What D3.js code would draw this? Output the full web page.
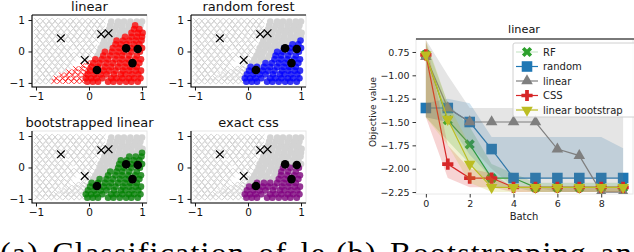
<!DOCTYPE html>
<html>
<head>
<meta charset="utf-8">
<script src="https://cdn.jsdelivr.net/npm/d3@7"></script>
<style>
body { margin: 0; background: #fff; }
svg { display: block; font-family: "DejaVu Sans", sans-serif; }
</style>
</head>
<body>
<svg id="chart" width="634" height="252"></svg>
<script>
// ---- left: four classification panels ----
const panelTitles = ["linear", "random forest", "bootstrapped linear", "exact css"];
const panelColors = ["red", "blue", "green", "purple"];
// a circle is coloured in a panel when its level is >= the panel's value
const panelMinLevel = [1, 3, 2, 4];
const scatterTicks = [-1, 0, 1];

// gray "x" class points, rows of [y, [x...]]
const crossRows = [
    [0.97, [-0.98, -0.87, -0.75, -0.64, -0.52, -0.41, -0.3, -0.18, -0.07, 0.04, 0.15, 0.26]],
    [0.85, [-0.93, -0.81, -0.7, -0.58, -0.47, -0.35, -0.24, -0.13, -0.01, 0.1, 0.21]],
    [0.73, [-0.99, -0.87, -0.76, -0.64, -0.53, -0.41, -0.29, -0.19, -0.06, 0.05, 0.16, 0.25]],
    [0.61, [-0.94, -0.82, -0.7, -0.59, -0.47, -0.36, -0.24, -0.12, -0.01, 0.11, 0.2]],
    [0.49, [-0.98, -0.86, -0.75, -0.63, -0.5, -0.4, -0.28, -0.17, -0.05, 0.06, 0.16]],
    [0.37, [-0.93, -0.8, -0.69, -0.57, -0.45, -0.34, -0.22, -0.1, 0.01, 0.13]],
    [0.25, [-0.99, -0.87, -0.76, -0.64, -0.52, -0.29, -0.18, -0.06, 0.05]],
    [0.13, [-0.94, -0.82, -0.7, -0.59, -0.47, -0.36, -0.24, -0.12, 0.0, 0.1]],
    [0.01, [-0.98, -0.86, -0.75, -0.63, -0.52, -0.4, -0.18, -0.07, 0.04]],
    [-0.11, [-0.93, -0.8, -0.69, -0.57, -0.46, -0.34, -0.23, -0.12, 0.0]],
    [-0.23, [-0.99, -0.87, -0.75, -0.64, -0.53, -0.41, -0.3, -0.04]],
    [-0.35, [-0.94, -0.82, -0.7, -0.59, -0.48, -0.36]],
    [-0.47, [-0.98, -0.87, -0.75, -0.63, -0.52, -0.4]],
    [-0.59, [-0.93, -0.81, -0.69, -0.58, -0.46]],
    [-0.71, [-0.99, -0.87, -0.76, -0.64]],
    [-0.83, [-0.94, -0.82, -0.71]],
    [-0.95, [-0.98, -0.87, -0.76]]
];

// "x" points that the linear learner marks (red in the first panel only)
const linearCrossRows = [
    [-0.35, [-0.02]],
    [-0.45, [-0.12, 0.0]],
    [-0.55, [-0.25, -0.14, -0.04]],
    [-0.65, [-0.38, -0.27, -0.16, -0.06]],
    [-0.75, [-0.52, -0.42, -0.31, -0.2, -0.09]],
    [-0.85, [-0.62, -0.5, -0.4, -0.29, -0.18]],
    [-0.95, [-0.66, -0.55, -0.44, -0.33, -0.23, -0.13]]
];

// "o" class points, rows of [y, [[x, level]...]]
const circleRows = [
    [-0.96, [[-0.03, 4], [0.07, 4], [0.17, 4], [0.36, 4], [0.46, 4], [0.58, 4], [0.7, 4], [0.8, 4], [0.92, 4]]],
    [-0.85, [[-0.06, 4], [0.04, 4], [0.14, 4], [0.25, 4], [0.42, 4], [0.52, 4], [0.63, 4], [0.75, 4], [0.85, 4], [0.97, 4]]],
    [-0.73, [[-0.02, 4], [0.1, 4], [0.22, 4], [0.33, 4], [0.47, 4], [0.6, 4], [0.69, 4], [0.81, 4], [0.93, 4]]],
    [-0.61, [[0.02, 4], [0.12, 4], [0.27, 4], [0.38, 4], [0.5, 4], [0.64, 4], [0.76, 4], [0.88, 4], [0.98, 4]]],
    [-0.49, [[0.05, 3], [0.17, 4], [0.3, 4], [0.42, 4], [0.55, 4], [0.67, 4], [0.78, 4], [0.9, 4]]],
    [-0.37, [[0.08, 1], [0.2, 2], [0.33, 3], [0.45, 3], [0.58, 4], [0.7, 4], [0.84, 4], [0.95, 4]]],
    [-0.25, [[0.12, 1], [0.24, 1], [0.36, 2], [0.5, 3], [0.62, 4], [0.74, 4], [0.87, 4], [0.98, 4]]],
    [-0.13, [[0.16, 0], [0.27, 1], [0.4, 2], [0.52, 3], [0.63, 4], [0.76, 4], [0.9, 4]]],
    [-0.01, [[0.2, 0], [0.3, 1], [0.43, 1], [0.55, 3], [0.66, 4], [0.8, 4], [0.96, 4]]],
    [0.11, [[0.22, 0], [0.34, 0], [0.45, 1], [0.57, 2], [0.68, 3], [0.79, 3], [0.9, 3], [1.0, 3]]],
    [0.23, [[0.26, 0], [0.38, 0], [0.5, 1], [0.6, 2], [0.71, 2], [0.84, 3], [0.95, 3]]],
    [0.35, [[0.29, 0], [0.41, 0], [0.52, 1], [0.64, 1], [0.76, 2], [0.88, 2], [0.99, 3]]],
    [0.47, [[0.32, 0], [0.44, 0], [0.56, 0], [0.68, 1], [0.8, 1], [0.9, 1], [1.0, 2]]],
    [0.59, [[0.34, 0], [0.46, 0], [0.58, 0], [0.7, 0], [0.8, 1], [0.92, 1], [1.01, 1]]],
    [0.71, [[0.38, 0], [0.5, 0], [0.62, 0], [0.74, 0], [0.85, 1], [0.95, 1]]],
    [0.83, [[0.4, 0], [0.52, 0], [0.63, 0], [0.75, 0], [0.87, 1], [0.97, 0]]],
    [0.95, [[0.42, 0], [0.55, 0], [0.66, 0], [0.78, 0], [0.9, 0], [1.0, 0]]]
];

// labelled points (black)
const pickedCircles = [[0.15, -0.59], [0.7, 0.1], [0.92, 0.08], [0.82, -0.37]];
const pickedCrosses = [[-0.53, 0.42], [0.23, 0.55], [0.37, 0.58], [-0.08, -0.27]];

// ---- right: objective value per batch ----
const batches = [0, 1, 2, 3, 4, 5, 6, 7, 8, 9];
const seriesNames = ["RF", "random", "linear", "CSS", "linear bootstrap"];

const rfMean = [-0.78, -1.48, -1.74, -2.1, -2.1, -2.2, -2.2, -2.2, -2.2, -2.2];
const rfUpper = [-0.65, -1.3, -1.55, -1.95, -2.05, -2.15, -2.15, -2.15, -2.15, -2.15];
const rfLower = [-1.45, -1.7, -1.95, -2.2, -2.2, -2.25, -2.25, -2.25, -2.25, -2.25];

const randomMean = [-1.35, -1.35, -1.5, -1.79, -2.1, -2.1, -2.1, -2.1, -2.1, -2.1];
const randomUpper = [-1.3, -1.25, -1.3, -1.66, -1.66, -1.66, -1.66, -1.66, -1.66, -1.78];
const randomLower = [-1.45, -1.5, -1.85, -2.1, -2.1, -2.1, -2.1, -2.1, -2.1, -2.1];

const linearMean = [-0.8, -1.35, -1.5, -1.5, -1.5, -1.5, -1.79, -1.86, -2.25, -2.25];
const linearUpper = [-0.62, -1.0, -1.35, -1.35, -1.35, -1.35, -1.35, -1.35, -1.35, -1.35];
const linearLower = [-1.45, -1.5, -1.75, -2.0, -2.2, -2.2, -2.25, -2.25, -2.25, -2.25];

const cssMean = [-0.78, -1.95, -2.1, -2.1, -2.2, -2.2, -2.2, -2.2, -2.2, -2.2];
const cssUpper = [-0.62, -1.75, -2.0, -2.05, -2.2, -2.2, -2.2, -2.2, -2.2, -2.2];
const cssLower = [-1.45, -2.1, -2.2, -2.2, -2.25, -2.25, -2.25, -2.25, -2.25, -2.25];

const bootMean = [-0.78, -1.47, -1.95, -2.2, -2.2, -2.2, -2.2, -2.2, -2.2, -2.2];
const bootUpper = [-0.62, -1.3, -1.75, -2.1, -2.2, -2.2, -2.2, -2.2, -2.2, -2.2];
const bootLower = [-1.45, -1.75, -2.15, -2.25, -2.25, -2.25, -2.25, -2.25, -2.25, -2.25];

const objTickValues = [-0.75, -1.0, -1.25, -1.5, -1.75, -2.0, -2.25];
const objTickLabels = ["0.75", "\u22121.00", "\u22121.25", "\u22121.50", "\u22121.75", "\u22122.00", "\u22122.25"];
const batchTicks = [0, 2, 4, 6, 8];

const captions = ["(a) Classification of le-", "(b) Bootstrapping and diversity"];


function flattenRows(rows) {
    var out = [];
    rows.forEach(function(r) {
        r[1].forEach(function(p) {
            if (Array.isArray(p)) out.push([p[0], r[0], p[1]]);
            else out.push([p, r[0]]);
        });
    });
    return out;
}

function crossPath(s) {
    return "M" + (-s) + "," + (-s) + "L" + s + "," + s + "M" + (-s) + "," + s + "L" + s + "," + (-s);
}

function drawScatterPanel(svg, i, crosses, linearCrosses, circles) {
    var left = [32, 191][i % 2],
        top = [15, 131][Math.floor(i / 2)],
        w = 115,
        h = 72;

    var x = d3.scaleLinear().domain([-1.075, 1.094]).range([left, left + w]);
    var y = d3.scaleLinear().domain([-1.13, 1.16]).range([top + h, top]);

    svg.append("clipPath")
        .attr("id", "clip" + i)
        .append("rect")
        .attr("x", left).attr("y", top)
        .attr("width", w).attr("height", h);

    var g = svg.append("g").attr("clip-path", "url(#clip" + i + ")");

    g.selectAll(".gx")
        .data(crosses.concat(i === 0 ? [] : linearCrosses))
        .enter()
        .append("path")
        .attr("d", crossPath(2.8))
        .attr("transform", function(d) { return "translate(" + x(d[0]) + "," + y(d[1]) + ")"; })
        .attr("stroke", "#d3d3d3")
        .attr("stroke-width", 1);

    g.selectAll(".go")
        .data(circles)
        .enter()
        .append("circle")
        .attr("cx", function(d) { return x(d[0]); })
        .attr("cy", function(d) { return y(d[1]); })
        .attr("r", 3.3)
        .attr("fill", "#d3d3d3");

    g.selectAll(".co")
        .data(circles.filter(function(d) { return d[2] >= panelMinLevel[i]; }))
        .enter()
        .append("circle")
        .attr("cx", function(d) { return x(d[0]); })
        .attr("cy", function(d) { return y(d[1]); })
        .attr("r", 3.3)
        .attr("fill", panelColors[i])
        .attr("fill-opacity", 0.75);

    if (i === 0) {
        g.selectAll(".cx")
            .data(linearCrosses)
            .enter()
            .append("path")
            .attr("d", crossPath(2.5))
            .attr("transform", function(d) { return "translate(" + x(d[0]) + "," + y(d[1]) + ")"; })
            .attr("stroke", panelColors[i])
            .attr("stroke-opacity", 0.8)
            .attr("stroke-width", 1);
    }

    g.selectAll(".po")
        .data(pickedCircles)
        .enter()
        .append("circle")
        .attr("cx", function(d) { return x(d[0]); })
        .attr("cy", function(d) { return y(d[1]); })
        .attr("r", 4.3)
        .attr("fill", "#000");

    g.selectAll(".px")
        .data(pickedCrosses)
        .enter()
        .append("path")
        .attr("d", crossPath(3.8))
        .attr("transform", function(d) { return "translate(" + x(d[0]) + "," + y(d[1]) + ")"; })
        .attr("stroke", "#000")
        .attr("stroke-width", 1.2);

    // frame: light box, dark left/bottom (and top on the upper row)
    svg.append("rect")
        .attr("x", left).attr("y", top).attr("width", w).attr("height", h)
        .attr("fill", "none").attr("stroke", "#e6e6e6");
    svg.append("path")
        .attr("d", "M" + left + "," + top + "V" + (top + h) + "H" + (left + w))
        .attr("fill", "none").attr("stroke", "#000").attr("stroke-width", 1.1);
    if (top < 50) {
        svg.append("line")
            .attr("x1", left).attr("x2", left + w)
            .attr("y1", top).attr("y2", top)
            .attr("stroke", "#000").attr("stroke-width", 1.1);
    }

    var xAxis = svg.append("g")
        .attr("transform", "translate(0," + (top + h) + ")")
        .call(d3.axisBottom(x).tickValues(scatterTicks).tickSize(3.5).tickPadding(2.5).tickFormat(d3.format("d")));
    var yAxis = svg.append("g")
        .attr("transform", "translate(" + left + ",0)")
        .call(d3.axisLeft(y).tickValues(scatterTicks).tickSize(3.5).tickPadding(3.5).tickFormat(d3.format("d")));

    [xAxis, yAxis].forEach(function(a) {
        a.select(".domain").remove();
        a.selectAll("text").attr("font-size", 10.5).attr("font-family", "DejaVu Sans").attr("fill", "#111");
        a.selectAll("line").attr("stroke", "#111");
    });

    svg.append("text")
        .attr("x", left + w / 2)
        .attr("y", top - 4.5)
        .attr("text-anchor", "middle")
        .attr("font-size", 13)
        .attr("fill", "#111")
        .text(panelTitles[i]);
}

function markerType(name) {
    if (name === "RF") return { type: d3.symbolCross, size: 65, rot: 45 };
    if (name === "random") return { type: d3.symbolSquare, size: 112, rot: 0 };
    if (name === "linear") return { type: d3.symbolTriangle, size: 58, rot: 0 };
    if (name === "CSS") return { type: d3.symbolCross, size: 70, rot: 0 };
    return { type: d3.symbolTriangle, size: 58, rot: 180 };
}

function drawObjectiveChart(svg) {
    var colors = { "RF": "#2ca02c", "random": "#1f77b4", "linear": "#7f7f7f", "CSS": "#d62728", "linear bootstrap": "#bcbd22" };
    var series = [
        { name: "RF", mean: rfMean, upper: rfUpper, lower: rfLower },
        { name: "random", mean: randomMean, upper: randomUpper, lower: randomLower },
        { name: "linear", mean: linearMean, upper: linearUpper, lower: linearLower },
        { name: "CSS", mean: cssMean, upper: cssUpper, lower: cssLower },
        { name: "linear bootstrap", mean: bootMean, upper: bootUpper, lower: bootLower }
    ];

    var left = 416, right = 633, top = 39, bottom = 194;
    var x = d3.scaleLinear().domain([-0.45, 9.45]).range([left, right]);
    var y = d3.scaleLinear().domain([-2.271, -0.611]).range([bottom, top]);

    svg.append("rect")
        .attr("x", left).attr("y", top).attr("width", right - left).attr("height", bottom - top)
        .attr("fill", "none").attr("stroke", "#e8e8e8");

    svg.append("clipPath").attr("id", "clipObj")
        .append("rect").attr("x", left).attr("y", top).attr("width", right - left + 2).attr("height", bottom - top);

    var g = svg.append("g").attr("clip-path", "url(#clipObj)");

    series.forEach(function(s) {
        var c = colors[s.name];
        var band = d3.area()
            .x(function(d, i) { return x(batches[i]); })
            .y0(function(d, i) { return y(s.lower[i]); })
            .y1(function(d) { return y(d); });
        g.append("path")
            .datum(s.upper)
            .attr("d", band)
            .attr("fill", c)
            .attr("fill-opacity", 0.2);

        var line = d3.line()
            .x(function(d, i) { return x(batches[i]); })
            .y(function(d) { return y(d); });
        g.append("path")
            .datum(s.mean)
            .attr("d", line)
            .attr("fill", "none")
            .attr("stroke", c)
            .attr("stroke-width", 1.2);

        var m = markerType(s.name);
        g.selectAll(null)
            .data(s.mean)
            .enter()
            .append("path")
            .attr("d", d3.symbol().type(m.type).size(m.size))
            .attr("transform", function(d, i) {
                return "translate(" + x(batches[i]) + "," + y(d) + ") rotate(" + m.rot + ")";
            })
            .attr("fill", c);
    });

    svg.append("line")
        .attr("x1", left).attr("x2", 634).attr("y1", top).attr("y2", top)
        .attr("stroke", "#000").attr("stroke-width", 1.1);

    var xAxis = svg.append("g")
        .attr("transform", "translate(0," + bottom + ")")
        .call(d3.axisBottom(x).tickValues(batchTicks).tickSize(3.5).tickPadding(2.5));
    var yAxis = svg.append("g")
        .attr("transform", "translate(" + left + ",0)")
        .call(d3.axisLeft(y).tickValues(objTickValues).tickSize(3.5).tickPadding(3)
            .tickFormat(function(d, i) { return objTickLabels[i]; }));

    [xAxis, yAxis].forEach(function(a) {
        a.select(".domain").remove();
        a.selectAll("text").attr("font-size", 9.5).attr("font-family", "DejaVu Sans").attr("fill", "#222");
        a.selectAll("line").attr("stroke", "#333");
    });

    svg.append("text")
        .attr("x", 524).attr("y", 220)
        .attr("text-anchor", "middle")
        .attr("font-size", 10).attr("fill", "#222")
        .text("Batch");

    svg.append("text")
        .attr("transform", "translate(376,112) rotate(-90)")
        .attr("text-anchor", "middle")
        .attr("font-size", 9).attr("fill", "#222")
        .text("Objective value");

    svg.append("text")
        .attr("x", 524).attr("y", 33)
        .attr("text-anchor", "middle")
        .attr("font-size", 11.3).attr("fill", "#111")
        .text("linear");

    // legend
    var lg = svg.append("g");
    lg.append("rect")
        .attr("x", 513).attr("y", 43).attr("width", 130).attr("height", 74)
        .attr("rx", 2)
        .attr("fill", "#fff").attr("fill-opacity", 0.8)
        .attr("stroke", "#d0d0d0");

    series.forEach(function(s, k) {
        var c = colors[s.name], m = markerType(s.name);
        var ly = 52 + k * 14.5;
        lg.append("line")
            .attr("x1", 516).attr("x2", 538).attr("y1", ly).attr("y2", ly)
            .attr("stroke", c).attr("stroke-width", 1.2)
            .attr("stroke-opacity", s.name === "RF" ? 0.25 : 1);
        lg.append("path")
            .attr("d", d3.symbol().type(m.type).size(m.size))
            .attr("transform", "translate(527," + ly + ") rotate(" + m.rot + ")")
            .attr("fill", c);
        lg.append("text")
            .attr("x", 543).attr("y", ly + 3.5)
            .attr("font-size", 10).attr("fill", "#222")
            .text(seriesNames[k]);
    });
}

function main() {
    var svg = d3.select("#chart");
    svg.append("rect").attr("width", 634).attr("height", 252).attr("fill", "#fff");

    var crosses = flattenRows(crossRows),
        linearCrosses = flattenRows(linearCrossRows),
        circles = flattenRows(circleRows);

    for (var i = 0; i < 4; i++) {
        drawScatterPanel(svg, i, crosses, linearCrosses, circles);
    }

    drawObjectiveChart(svg);

    // sub-figure captions, only their upper half shows in the picture
    svg.selectAll(".caption")
        .data(captions)
        .enter()
        .append("text")
        .attr("class", "caption")
        .attr("x", function(d, i) { return [0, 336][i]; })
        .attr("y", 264)
        .attr("font-family", "Liberation Serif, serif")
        .attr("font-size", 32)
        .attr("letter-spacing", 1.2)
        .attr("word-spacing", 4)
        .attr("fill", "#000")
        .text(function(d) { return d; });
}

main();
</script>
</body>
</html>
